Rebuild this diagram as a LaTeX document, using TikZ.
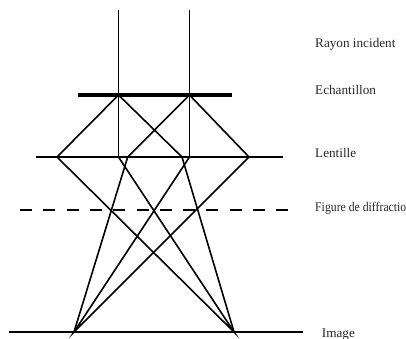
\documentclass[tikz,border=0pt]{standalone}
\usepackage{fontspec}
\setmainfont{Liberation Serif}
\newfontfamily\condfont[FakeStretch=0.89]{Liberation Serif}
\begin{document}
\begin{tikzpicture}[x=1pt,y=-1pt,
  ray/.style={line width=1.6pt,black},
  plane/.style={line width=1.6pt,black},
  sample/.style={line width=3.8pt,black},
  diff/.style={line width=1.6pt,black,dash pattern=on 12pt off 11.3pt},
  lbl/.style={anchor=base west,inner sep=0pt,font=\fontsize{13.2}{15}\selectfont,text=black!85}]
\useasboundingbox (0,0) rectangle (406,338);
\clip (0,0) rectangle (406,338);
% planes
\coordinate (sL) at (78,95);  \coordinate (sR) at (232,95);
\coordinate (lL) at (36,157); \coordinate (lR) at (283,157);
\coordinate (dL) at (20,210); \coordinate (dR) at (293,210);
\coordinate (iL) at (9,332);  \coordinate (iR) at (303,332);
% ray points
\coordinate (t1) at (118.5,10); \coordinate (t2) at (189.5,10);
\coordinate (s1) at (118.5,95); \coordinate (s2) at (189.5,95);
\coordinate (a1) at (57,157);   \coordinate (a2) at (118.5,157);
\coordinate (a3) at (127.7,157); \coordinate (a4) at (182,157);
\coordinate (a5) at (189.5,157); \coordinate (a6) at (249,157);
\coordinate (I1) at (74,332);   \coordinate (I2) at (234,332);
% planes drawn
\draw[plane] (lL) -- (lR);
\draw[diff] (dL) -- (dR);
\draw[plane] (iL) -- (iR);
% incident rays
\draw[ray] (t1) -- (s1) -- (a2);
\draw[ray] (t2) -- (s2) -- (a5);
% diffracted rays
\draw[ray] (a1) -- (s1) -- (a4);
\draw[ray] (a3) -- (s2) -- (a6);
% imaging rays
\draw[ray] (a1) -- (I2) -- (a2);
\draw[ray] (a4) -- (I2);
\draw[ray] (a6) -- (I1) -- (a5);
\draw[ray] (a3) -- (I1);
\draw[sample] (sL) -- (sR);
% labels
\node[lbl] (n1) at (315,47.5) {Rayon incident};
\node[lbl] (n2) at (315,94) {Echantillon};
\node[lbl] (n3) at (315,157) {Lentille};
\node[lbl,font=\condfont\fontsize{13.2}{15}\selectfont] (n4) at (315,211) {Figure de diffraction};
\node[lbl] (n5) at (321.7,337.5) {Image};
\end{tikzpicture}
\end{document}
